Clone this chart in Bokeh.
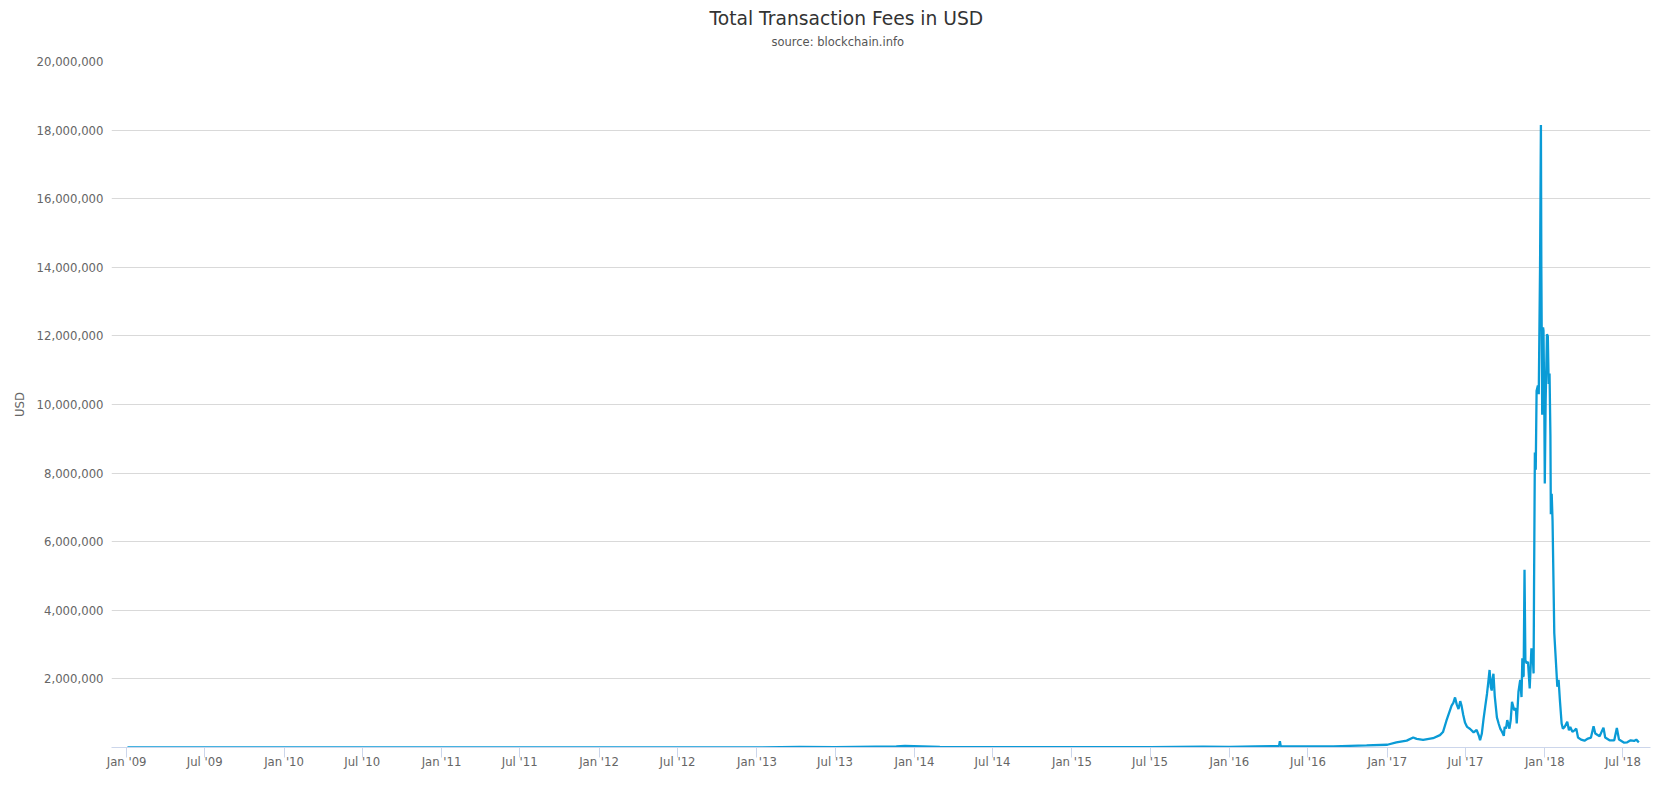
import pandas as pd
from bokeh.plotting import figure
from bokeh.models import (FixedTicker, NumeralTickFormatter, DatetimeTickFormatter,
                          Range1d, Title, ColumnDataSource)
from bokeh.embed import file_html
from bokeh.resources import INLINE

# ---------------- data ----------------
dates = [
    "2009-01-03", "2009-07-01", "2010-01-01", "2010-07-01", "2011-01-01", "2011-06-10",
    "2011-12-01", "2012-06-01", "2013-01-01", "2013-04-10", "2013-07-01", "2013-11-20",
    "2013-12-10", "2014-03-01", "2014-07-01", "2015-01-01", "2015-07-01", "2015-11-01",
    "2016-01-01", "2016-03-01", "2016-04-25", "2016-04-27", "2016-04-29", "2016-06-01",
    "2016-06-12", "2016-08-29", "2016-11-14", "2017-01-01", "2017-01-22", "2017-02-15",
    "2017-03-02", "2017-03-10", "2017-03-25", "2017-04-17", "2017-05-03", "2017-05-10",
    "2017-05-18", "2017-05-24", "2017-05-30", "2017-06-03", "2017-06-07", "2017-06-11",
    "2017-06-15", "2017-06-19", "2017-06-22", "2017-06-26", "2017-06-30", "2017-07-05",
    "2017-07-12", "2017-07-20", "2017-07-27", "2017-08-01", "2017-08-04", "2017-08-08",
    "2017-08-12", "2017-08-16", "2017-08-20", "2017-08-23", "2017-08-26", "2017-08-29",
    "2017-08-31", "2017-09-02", "2017-09-04", "2017-09-07", "2017-09-12", "2017-09-16",
    "2017-09-20", "2017-09-22", "2017-09-26", "2017-09-28", "2017-09-30", "2017-10-03",
    "2017-10-06", "2017-10-11", "2017-10-14", "2017-10-17", "2017-10-22", "2017-10-26",
    "2017-10-28", "2017-11-01", "2017-11-05", "2017-11-08", "2017-11-10", "2017-11-12",
    "2017-11-13", "2017-11-15", "2017-11-17", "2017-11-20", "2017-11-23", "2017-11-27",
    "2017-12-01", "2017-12-04", "2017-12-06", "2017-12-07", "2017-12-09", "2017-12-11",
    "2017-12-13", "2017-12-16", "2017-12-18", "2017-12-21", "2017-12-23", "2017-12-24",
    "2017-12-26", "2017-12-28", "2017-12-29", "2017-12-31", "2018-01-01", "2018-01-03",
    "2018-01-06", "2018-01-08", "2018-01-10", "2018-01-12", "2018-01-14", "2018-01-15",
    "2018-01-17", "2018-01-19", "2018-01-23", "2018-01-27", "2018-01-30", "2018-02-02",
    "2018-02-05", "2018-02-09", "2018-02-12", "2018-02-16", "2018-02-22", "2018-02-26",
    "2018-03-01", "2018-03-06", "2018-03-11", "2018-03-15", "2018-03-19", "2018-03-26",
    "2018-04-03", "2018-04-11", "2018-04-18", "2018-04-24", "2018-04-28", "2018-05-08",
    "2018-05-17", "2018-05-21", "2018-05-31", "2018-06-11", "2018-06-17", "2018-06-22",
    "2018-07-04", "2018-07-11", "2018-07-19", "2018-07-27", "2018-08-01", "2018-08-07",
]
fees_usd = [
    0, 0, 2, 50, 200, 3000,
    800, 1500, 3000, 15000, 10000, 30000,
    50000, 20000, 12000, 9000, 12000, 25000,
    20000, 30000, 40000, 180000, 40000, 35000,
    30000, 30000, 60000, 80000, 150000, 200000,
    290000, 250000, 220000, 270000, 360000, 450000,
    780000, 1000000, 1220000, 1300000, 1460000, 1250000,
    1120000, 1350000, 1220000, 950000, 730000, 600000,
    540000, 440000, 510000, 350000, 210000, 400000,
    830000, 1200000, 1560000, 1900000, 2260000, 1750000,
    1660000, 2000000, 2150000, 1500000, 880000, 700000,
    540000, 500000, 400000, 340000, 600000, 550000,
    800000, 550000, 800000, 1330000, 1090000, 1140000,
    700000, 1630000, 1970000, 1470000, 2600000, 2060000,
    2100000, 5180000, 2550000, 2450000, 2500000, 1720000,
    2890000, 2700000, 2160000, 4500000, 8600000, 8100000,
    10400000, 10550000, 10300000, 14000000, 18150000, 14000000,
    9700000, 12250000, 12150000, 9700000, 7700000, 10100000,
    12050000, 12000000, 10600000, 10900000, 9100000, 6800000,
    7400000, 6600000, 3330000, 2450000, 1770000, 1970000,
    1380000, 700000, 550000, 600000, 750000, 500000,
    600000, 460000, 500000, 550000, 290000, 230000,
    200000, 260000, 290000, 620000, 410000, 330000,
    580000, 290000, 210000, 210000, 570000, 230000,
    140000, 150000, 210000, 190000, 230000, 150000,
]

tick_dates = [f"{y}-{m:02d}-01" for y in range(2009, 2019) for m in (1, 7)]
y_ticks = [2000000, 4000000, 6000000, 8000000, 10000000,
           12000000, 14000000, 16000000, 18000000, 20000000]

title_text = "Total Transaction Fees in USD"
subtitle_text = "source: blockchain.info"
y_label = "USD"

# ---------------- figure ----------------
FONT = "DejaVu Sans"
TICK_FS = "11.7px"
src = ColumnDataSource(dict(x=pd.to_datetime(dates), y=fees_usd))

p = figure(width=1664, height=778, x_axis_type="datetime",
           output_backend="svg", toolbar_location=None, title=None,
           x_range=Range1d(pd.Timestamp("2008-11-27"), pd.Timestamp("2018-09-03")),
           y_range=Range1d(0, 20000000),
           min_border_left=111, min_border_right=14,
           min_border_top=61, min_border_bottom=31)
p.outline_line_color = None
p.background_fill_color = "white"
p.border_fill_color = "white"

p.line("x", "y", source=src, line_color="#0a9bd6", line_width=2.3)

# x axis
tick_ms = [pd.Timestamp(d).value // 10**6 for d in tick_dates]
p.xaxis.ticker = FixedTicker(ticks=tick_ms)
p.xaxis.formatter = DatetimeTickFormatter(days="%b '%y", months="%b '%y", years="%b '%y")
p.xaxis.axis_line_color = "#ccd6eb"
p.xaxis.major_tick_line_color = "#ccd6eb"
p.xaxis.major_tick_out = 10
p.xaxis.major_tick_in = 0
p.xaxis.minor_tick_line_color = None
p.xaxis.major_label_text_font = FONT
p.xaxis.major_label_text_font_size = TICK_FS
p.xaxis.major_label_text_color = "#666666"
p.xaxis.major_label_standoff = -3
p.xgrid.grid_line_color = None

# y axis
p.yaxis.ticker = FixedTicker(ticks=y_ticks)
p.yaxis.formatter = NumeralTickFormatter(format="0,0")
p.yaxis.axis_line_color = None
p.yaxis.major_tick_line_color = None
p.yaxis.minor_tick_line_color = None
p.yaxis.major_tick_out = 0
p.yaxis.major_tick_in = 0
p.yaxis.major_label_text_font = FONT
p.yaxis.major_label_text_font_size = TICK_FS
p.yaxis.major_label_text_color = "#666666"
p.yaxis.major_label_standoff = 8
p.yaxis.axis_label = y_label
p.yaxis.axis_label_text_font = FONT
p.yaxis.axis_label_text_font_size = TICK_FS
p.yaxis.axis_label_text_font_style = "normal"
p.yaxis.axis_label_text_color = "#666666"
p.yaxis.axis_label_standoff = 7
p.ygrid.grid_line_color = "#d9d9d9"
p.ygrid.grid_line_width = 1

# titles (subtitle added first so it sits next to the plot area)
p.add_layout(Title(text=subtitle_text, text_font=FONT, text_font_size="11.5px",
                   text_font_style="normal", text_color="#555555",
                   align="left", offset=660, standoff=26), "above")
p.add_layout(Title(text=title_text, text_font=FONT, text_font_size="18.7px",
                   text_font_style="normal", text_color="#333333",
                   align="left", offset=598, standoff=-18), "above")

open("out.html", "w").write(file_html(p, INLINE))
